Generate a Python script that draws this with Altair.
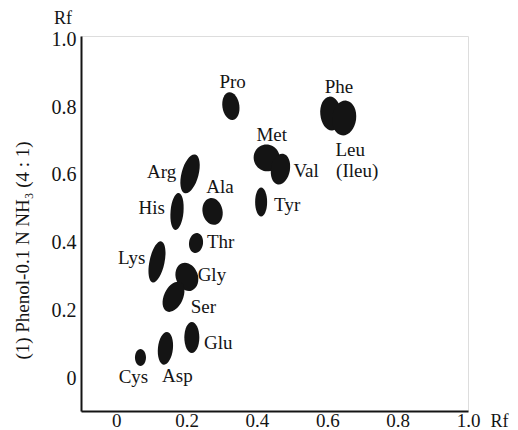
import altair as alt
import pandas as pd

# Spots (amino acids) in Rf units; spot extents in pixels
spot_name = ["Pro", "Arg", "His", "Ala", "Thr", "Lys", "Gly", "Ser", "Glu", "Asp", "Cys",
             "Tyr", "Met", "Val", "Phe", "Leu"]
spot_x = [0.326, 0.210, 0.173, 0.274, 0.227, 0.116, 0.201, 0.163, 0.215, 0.140, 0.069,
          0.412, 0.428, 0.467, 0.610, 0.648]
spot_y = [0.803, 0.603, 0.492, 0.492, 0.399, 0.343, 0.299, 0.240, 0.120, 0.088, 0.061,
          0.520, 0.650, 0.617, 0.781, 0.768]
spot_w = [17, 17, 13, 20, 14, 15, 22, 19, 15, 15, 11, 12, 26, 19, 21, 24]
spot_h = [28, 40, 37, 27, 20, 42, 29, 32, 31, 33, 17, 29, 27, 31, 34, 35]
spot_angle = [-8, 15, 5, -12, 8, 12, -20, 25, 0, 6, 0, 0, -30, 10, -5, 8]

# Labels
label_text = ["Pro", "Phe", "Met", "Leu", "Val", "(Ileu)", "Tyr", "Arg", "Ala", "His",
              "Thr", "Lys", "Gly", "Ser", "Glu", "Cys", "Asp"]
label_x = [0.331, 0.633, 0.442, 0.665, 0.540, 0.685, 0.486, 0.129, 0.295, 0.101,
           0.297, 0.044, 0.272, 0.248, 0.290, 0.049, 0.174]
label_y = [0.875, 0.859, 0.719, 0.672, 0.612, 0.612, 0.511, 0.609, 0.564, 0.501,
           0.403, 0.354, 0.305, 0.209, 0.105, 0.003, 0.006]

x_ticks = [0, 0.2, 0.4, 0.6, 0.8, 1.0]
y_ticks = [0, 0.2, 0.4, 0.6, 0.8, 1.0]

FONT = "Liberation Serif"
INK = "#141414"


def ellipse_path(w, h):
    m = max(w, h)
    a, b = w / m, h / m
    return f"M{-a:.3f},0A{a:.3f},{b:.3f} 0 1,0 {a:.3f},0A{a:.3f},{b:.3f} 0 1,0 {-a:.3f},0Z"


spots = pd.DataFrame({
    "name": spot_name, "x": spot_x, "y": spot_y,
    "path": [ellipse_path(w, h) for w, h in zip(spot_w, spot_h)],
    "size": [max(w, h) ** 2 for w, h in zip(spot_w, spot_h)],
    "angle": spot_angle,
})
labels = pd.DataFrame({"t": label_text, "x": label_x, "y": label_y})

xs = alt.Scale(domain=[-0.1, 1.0], nice=False, zero=False)
ys = alt.Scale(domain=[-0.097, 1.01], nice=False, zero=False)

lab_expr = "datum.value == 0 ? '0' : format(datum.value, '.1f')"

base = alt.Chart(spots).mark_point(filled=True, opacity=1, color=INK, strokeWidth=0).encode(
    x=alt.X("x:Q", scale=xs, axis=alt.Axis(values=x_ticks, labelExpr=lab_expr, title="Rf",
                                           ticks=False, grid=False, labelFlush=False,
                                           labelFontSize=19, labelFont=FONT, labelColor=INK,
                                           labelPadding=0, domainColor=INK, domainWidth=2,
                                           titleFont=FONT, titleFontSize=18, titleFontWeight="normal",
                                           titleColor=INK, titleX=418, titleY=10,
                                           titleAlign="center", titleBaseline="middle")),
    y=alt.Y("y:Q", scale=ys, axis=alt.Axis(values=y_ticks, labelExpr=lab_expr,
                                           title="(1)  Phenol-0.1 N NH₃ (4 : 1)",
                                           ticks=False, grid=False, labelFlush=False,
                                           labelFontSize=20, labelFont=FONT, labelColor=INK,
                                           labelPadding=5, domainColor=INK, domainWidth=2,
                                           titleFont=FONT, titleFontSize=19, titleFontWeight="normal",
                                           titleColor=INK, titleX=-59, titleY=214, titleAngle=-90,
                                           titleAlign="center", titleBaseline="middle")),
    shape=alt.Shape("path:N", scale=None),
    size=alt.Size("size:Q", scale=None),
    angle=alt.Angle("angle:Q", scale=None),
)

text = alt.Chart(labels).mark_text(font=FONT, fontSize=19, color=INK, baseline="middle",
                                   align="center").encode(
    x=alt.X("x:Q", scale=xs), y=alt.Y("y:Q", scale=ys), text="t:N")

rf = alt.Chart(pd.DataFrame({"t": ["Rf"]})).mark_text(
    font=FONT, fontSize=18, color=INK, baseline="middle", align="center").encode(
    text="t:N", x=alt.value(-18), y=alt.value(-17))

chart = alt.layer(base, text, rf).properties(
    width=387, height=375,
    autosize=alt.AutoSizeParams(type="none"),
    padding={"left": 73, "top": 28, "right": 42, "bottom": 20},
).configure_view(stroke=INK, strokeWidth=1.5).configure(background="white")

chart.save("out.html", embed_options={"renderer": "svg", "actions": False})
